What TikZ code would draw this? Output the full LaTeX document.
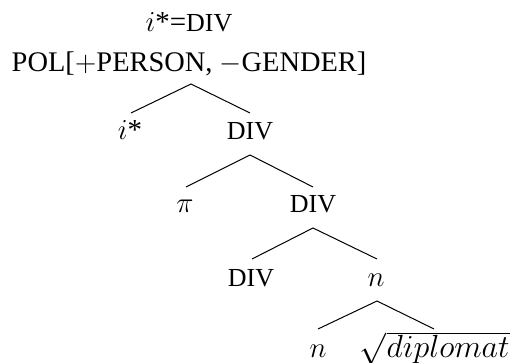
\RequirePackage{fix-cm}
\documentclass[tikz,border=0pt]{standalone}
\usepackage{fontspec}
\setmainfont{Liberation Serif}
\newcommand{\dv}{{\fontsize{13}{15}\selectfont DIV}}
\begin{document}
\begin{tikzpicture}[x=0.5pt,y=-0.5pt,
  lbl/.style={inner sep=0pt,anchor=base,font=\fontsize{14.5}{17}\selectfont},
  br/.style={line width=0.5pt}]
\useasboundingbox (0,0) rectangle (510,363);
\node[lbl] (top) at (189,32) {$i$*=\dv};
\node[lbl,font=\fontsize{14.2}{17}\selectfont] (pol) at (189,72) {POL[$+$PERSON, $-$GENDER]};
% level 1
\coordinate (r0) at (191,84);
\coordinate (r0l) at (131,113);
\coordinate (r0r) at (250,113);
\node[lbl] (istar) at (130,140) {$i$*};
\node[lbl] (div1) at (250,140) {\dv};
\draw[br] (r0l) -- (r0) -- (r0r);
% level 2
\coordinate (r1) at (250,155);
\coordinate (r1l) at (186,187);
\coordinate (r1r) at (313,187);
\node[lbl] (pi) at (185,213) {$\pi$};
\node[lbl] (div2) at (313,213) {\dv};
\draw[br] (r1l) -- (r1) -- (r1r);
% level 3
\coordinate (r2) at (313,228);
\coordinate (r2l) at (252,259);
\coordinate (r2r) at (377,259);
\node[lbl] (div3) at (251,287) {\dv};
\node[lbl] (n1) at (376,287) {$n$};
\draw[br] (r2l) -- (r2) -- (r2r);
% level 4
\coordinate (r3) at (377,301);
\coordinate (r3l) at (318,329);
\coordinate (r3r) at (434,329);
\node[lbl] (n2) at (318,358) {$n$};
\node[lbl,anchor=base east,font=\fontsize{16}{18}\selectfont] (root) at (510,358) {$\sqrt{diplomat}$};
\draw[br] (r3l) -- (r3) -- (r3r);
\end{tikzpicture}
\end{document}
